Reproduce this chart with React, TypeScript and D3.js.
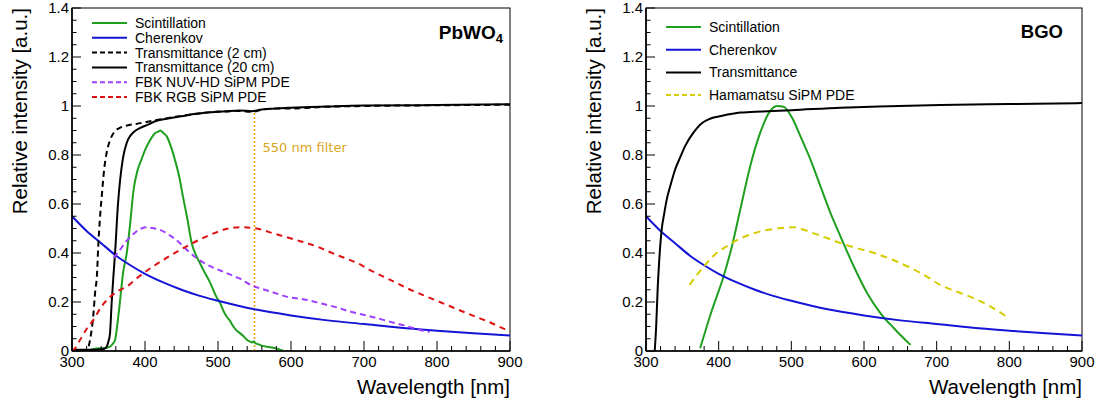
import React from 'react';
import * as d3 from 'd3';

type Pt = [number, number];

// ---------- data ----------
const xTickValues = [300, 400, 500, 600, 700, 800, 900];
const yTickValues = [0, 0.2, 0.4, 0.6, 0.8, 1, 1.2, 1.4];
const yTickLabels = ['0', '0.2', '0.4', '0.6', '0.8', '1', '1.2', '1.4'];

const pbwo4Scint: Pt[] = [
  [320, 0], [334, 0.01], [345, 0.012], [352, 0.018], [356, 0.03], [359, 0.045], [363, 0.13], [366, 0.21],
  [370, 0.32], [375, 0.4], [380, 0.53], [384, 0.65], [390, 0.74], [395, 0.78], [400, 0.82], [405, 0.85],
  [410, 0.875], [414, 0.89], [418, 0.895], [421, 0.9], [425, 0.89], [430, 0.875], [436, 0.83], [441, 0.78],
  [447, 0.71], [452, 0.63], [458, 0.54], [464, 0.44], [470, 0.39], [475, 0.36], [480, 0.33], [489, 0.28],
  [498, 0.22], [503, 0.195], [508, 0.16], [512, 0.14], [516, 0.125], [520, 0.105], [525, 0.085], [530, 0.073],
  [535, 0.06], [540, 0.045], [544, 0.038], [547, 0.035], [549, 0.04], [551, 0.032], [555, 0.028], [560, 0.022],
  [570, 0.016], [580, 0.01], [590, 0],
];

const pbwo4Trans2cm: Pt[] = [
  [300, 0], [320, 0], [322, 0.01], [325, 0.05], [329, 0.14], [332, 0.25], [334, 0.3], [336, 0.43], [338, 0.53],
  [340.7, 0.63], [344, 0.74], [347.5, 0.81], [352, 0.86], [357, 0.89], [365, 0.91], [375, 0.92], [390, 0.928],
  [402, 0.935], [420, 0.945], [434, 0.952], [450, 0.96], [466, 0.966], [490, 0.975], [512, 0.978], [530, 0.98],
  [546, 0.976], [560, 0.985], [580, 0.99], [600, 0.99], [650, 0.997], [700, 1.0], [800, 1.003], [900, 1.005],
];

const pbwo4Trans20cm: Pt[] = [
  [300, 0.005], [330, 0.005], [340, 0.007], [345, 0.01], [347.5, 0.018], [350, 0.04], [352, 0.07], [354.4, 0.2],
  [356.6, 0.3], [359, 0.4], [363, 0.6], [366, 0.7], [370, 0.79], [375, 0.85], [379.5, 0.877], [385, 0.895],
  [393, 0.91], [405, 0.925], [416, 0.94], [430, 0.948], [450, 0.958], [470, 0.968], [490, 0.974], [512, 0.979],
  [530, 0.982], [546, 0.979], [560, 0.986], [580, 0.99], [600, 0.993], [650, 0.998], [700, 1.002], [800, 1.004],
  [900, 1.007],
];

const cherenkov: Pt[] = [
  [300, 0.55], [320, 0.49], [340, 0.44], [360, 0.39], [380, 0.35], [400, 0.315], [425, 0.28], [450, 0.25],
  [475, 0.225], [500, 0.205], [550, 0.17], [600, 0.145], [650, 0.125], [700, 0.11], [750, 0.095], [800, 0.083],
  [850, 0.072], [900, 0.063],
];

const fbkNuvHd: Pt[] = [
  [357, 0.38], [365, 0.41], [375, 0.45], [385, 0.48], [395, 0.5], [402, 0.505], [410, 0.502], [420, 0.495],
  [435, 0.47], [448, 0.44], [460, 0.405], [475, 0.37], [490, 0.345], [512, 0.318], [530, 0.295], [548, 0.265],
  [553, 0.26], [575, 0.24], [594, 0.222], [621, 0.209], [640, 0.195], [660, 0.18], [681, 0.161], [710, 0.14],
  [735, 0.12], [760, 0.1], [777, 0.086], [790, 0.078],
];

const fbkRgb: Pt[] = [
  [300, 0], [304, 0.01], [310, 0.04], [320, 0.09], [329, 0.125], [340, 0.18], [352, 0.22], [363, 0.245],
  [375, 0.263], [390, 0.3], [411, 0.345], [435, 0.39], [457, 0.427], [475, 0.455], [494, 0.48], [510, 0.497],
  [530, 0.505], [553, 0.5], [576, 0.48], [605, 0.455], [635, 0.427], [660, 0.395], [690, 0.36], [712, 0.325],
  [736, 0.29], [760, 0.255], [786, 0.222], [812, 0.19], [841, 0.154], [870, 0.12], [895, 0.086], [900, 0.08],
];

const bgoScint: Pt[] = [
  [374.5, 0.011], [390, 0.16], [406.7, 0.304], [418.2, 0.427], [429.7, 0.577], [443.4, 0.754], [457.2, 0.891],
  [471, 0.98], [480.3, 1.0], [489.4, 0.997], [501, 0.952], [512.4, 0.877], [526.2, 0.782], [540, 0.673],
  [553.8, 0.564], [567.6, 0.468], [586, 0.345], [604.4, 0.236], [622.8, 0.154], [641.1, 0.093], [664, 0.025],
];

const bgoTrans: Pt[] = [
  [312, 0], [314, 0.1], [316, 0.25], [318, 0.36], [321.6, 0.495], [325, 0.56], [328.5, 0.618], [334, 0.68],
  [340, 0.74], [347, 0.79], [353.8, 0.836], [365, 0.89], [376.8, 0.93], [388, 0.948], [405, 0.96], [430, 0.973],
  [460, 0.978], [500, 0.983], [568, 0.993], [620, 0.998], [705, 1.004], [800, 1.008], [900, 1.012],
];

const hamamatsu: Pt[] = [
  [360, 0.27], [370, 0.31], [384, 0.36], [397, 0.4], [411, 0.427], [427, 0.455], [443, 0.475], [460, 0.49],
  [476, 0.498], [490, 0.503], [503, 0.505], [517, 0.495], [531, 0.48], [550, 0.46], [568, 0.44], [590, 0.42],
  [614, 0.4], [637, 0.375], [660, 0.345], [683, 0.31], [705, 0.27], [730, 0.24], [750, 0.217], [775, 0.18],
  [795, 0.143],
];

const filterWavelength = 550;
const filterTop = 0.98;

// ---------- styles ----------
const GREEN = '#1f9f1f';
const BLUE = '#1414d6';
const BLACK = '#000000';
const PURPLE = '#a040ff';
const RED = '#dd1111';
const YELLOW = '#d6cc00';
const FONT = '"Liberation Sans", Arial, Helvetica, sans-serif';

interface Series {
  name: string;
  data: Pt[];
  color: string;
  dash?: string;
}

const leftSeries: Series[] = [
  { name: 'Scintillation', data: pbwo4Scint, color: GREEN },
  { name: 'Cherenkov', data: cherenkov, color: BLUE },
  { name: 'Transmittance (2 cm)', data: pbwo4Trans2cm, color: BLACK, dash: '6,4' },
  { name: 'Transmittance (20 cm)', data: pbwo4Trans20cm, color: BLACK },
  { name: 'FBK NUV-HD SiPM PDE', data: fbkNuvHd, color: PURPLE, dash: '6,4' },
  { name: 'FBK RGB SiPM PDE', data: fbkRgb, color: RED, dash: '6,5' },
];

const rightSeries: Series[] = [
  { name: 'Scintillation', data: bgoScint, color: GREEN },
  { name: 'Cherenkov', data: cherenkov, color: BLUE },
  { name: 'Transmittance', data: bgoTrans, color: BLACK },
  { name: 'Hamamatsu SiPM PDE', data: hamamatsu, color: YELLOW, dash: '7,5' },
];

const TOP = 8;
const BOTTOM = 351;

function Panel(props: {
  id: string;
  left: number;
  right: number;
  series: Series[];
  legendX: number;
  legendY0: number;
  legendDy: number;
  title: React.ReactNode;
  titleX: number;
  titleY: number;
  titleSize: number;
  withFilter?: boolean;
}) {
  const { id, left, right, series } = props;
  const x = d3.scaleLinear().domain([300, 900]).range([left, right]);
  const y = d3.scaleLinear().domain([0, 1.4]).range([BOTTOM, TOP]);
  const line = d3
    .line<Pt>()
    .x((d) => x(d[0]))
    .y((d) => y(d[1]))
    .curve(d3.curveMonotoneX);

  const xMinor = d3.range(300, 901, 20);
  const yMinor = d3.range(0, 1.4001, 0.05);
  const isMajorX = (v: number) => Math.abs(v % 100) < 1e-6;
  const isMajorY = (v: number) => Math.abs(Math.round(v / 0.2) * 0.2 - v) < 1e-6;

  return (
    <g>
      <defs>
        <clipPath id={`clip-${id}`}>
          <rect x={left} y={TOP} width={right - left} height={BOTTOM - TOP} />
        </clipPath>
      </defs>
      {/* frame */}
      <rect x={left} y={TOP} width={right - left} height={BOTTOM - TOP} fill="none" stroke="#000" strokeWidth={1} />

      {/* curves */}
      <g clipPath={`url(#clip-${id})`}>
        {props.withFilter && (
          <line
            x1={x(filterWavelength)}
            x2={x(filterWavelength)}
            y1={y(0)}
            y2={y(filterTop)}
            stroke="#f0a000"
            strokeWidth={1.5}
            strokeDasharray="2,2"
          />
        )}
        {series.map((s, i) => (
          <path
            key={i}
            d={line(s.data) || ''}
            fill="none"
            stroke={s.color}
            strokeWidth={2}
            strokeDasharray={s.dash}
            strokeLinejoin="round"
          />
        ))}
      </g>

      {/* axes */}
      <line x1={left} x2={right} y1={BOTTOM} y2={BOTTOM} stroke="#000" strokeWidth={1.6} />
      <line x1={left} x2={left} y1={TOP} y2={BOTTOM} stroke="#000" strokeWidth={1.6} />
      {xMinor.map((v) => (
        <line
          key={`xt${v}`}
          x1={x(v)}
          x2={x(v)}
          y1={BOTTOM}
          y2={BOTTOM - (isMajorX(v) ? 10 : 5)}
          stroke="#000"
          strokeWidth={1}
        />
      ))}
      {yMinor.map((v, i) => (
        <line
          key={`yt${i}`}
          x1={left}
          x2={left + (isMajorY(v) ? 9 : 4.5)}
          y1={y(v)}
          y2={y(v)}
          stroke="#000"
          strokeWidth={1}
        />
      ))}
      {xTickValues.map((v) => (
        <text key={`xl${v}`} x={x(v)} y={367} textAnchor="middle" fontSize={15} fontFamily={FONT}>
          {v}
        </text>
      ))}
      {yTickValues.map((v, i) => (
        <text key={`yl${i}`} x={left - 3} y={y(v) + 5} textAnchor="end" fontSize={15} fontFamily={FONT}>
          {yTickLabels[i]}
        </text>
      ))}
      <text x={right} y={394} textAnchor="end" fontSize={20.5} fontFamily={FONT}>
        Wavelength [nm]
      </text>
      <text
        transform={`translate(${left - 45},${TOP}) rotate(-90)`}
        textAnchor="end"
        fontSize={20.5}
        fontFamily={FONT}
      >
        Relative intensity [a.u.]
      </text>

      {/* legend */}
      {series.map((s, i) => {
        const cy = props.legendY0 + i * props.legendDy;
        return (
          <g key={`lg${i}`}>
            <line
              x1={props.legendX}
              x2={props.legendX + 35}
              y1={cy}
              y2={cy}
              stroke={s.color}
              strokeWidth={2}
              strokeDasharray={s.dash ? '5,3' : undefined}
            />
            <text x={props.legendX + 43} y={cy + 5} fontSize={14} fontFamily={FONT}>
              {s.name}
            </text>
          </g>
        );
      })}

      {/* title label */}
      <text
        x={props.titleX}
        y={props.titleY}
        textAnchor="end"
        fontSize={props.titleSize}
        fontWeight="bold"
        fontFamily={FONT}
      >
        {props.title}
      </text>

      {props.withFilter && (
        <text
          x={x(filterWavelength) + 8}
          y={152}
          fontSize={13}
          fill="#d9a520"
          fontFamily='"DejaVu Sans", sans-serif'
        >
          550 nm filter
        </text>
      )}
    </g>
  );
}

export default function App() {
  return (
    <svg
      width={1097}
      height={403}
      style={{ position: 'absolute', left: 0, top: 0, background: '#fff' }}
      xmlns="http://www.w3.org/2000/svg"
    >
      <rect width={1097} height={403} fill="#fff" />
      <Panel
        id="pbwo4"
        left={72}
        right={510}
        series={leftSeries}
        legendX={92}
        legendY0={23}
        legendDy={14.8}
        title={
          <>
            PbWO
            <tspan fontSize={13} dy={4}>
              4
            </tspan>
          </>
        }
        titleX={503}
        titleY={39}
        titleSize={19}
        withFilter
      />
      <Panel
        id="bgo"
        left={646}
        right={1082}
        series={rightSeries}
        legendX={666}
        legendY0={27}
        legendDy={22.7}
        title="BGO"
        titleX={1063}
        titleY={38}
        titleSize={18.5}
      />
    </svg>
  );
}
